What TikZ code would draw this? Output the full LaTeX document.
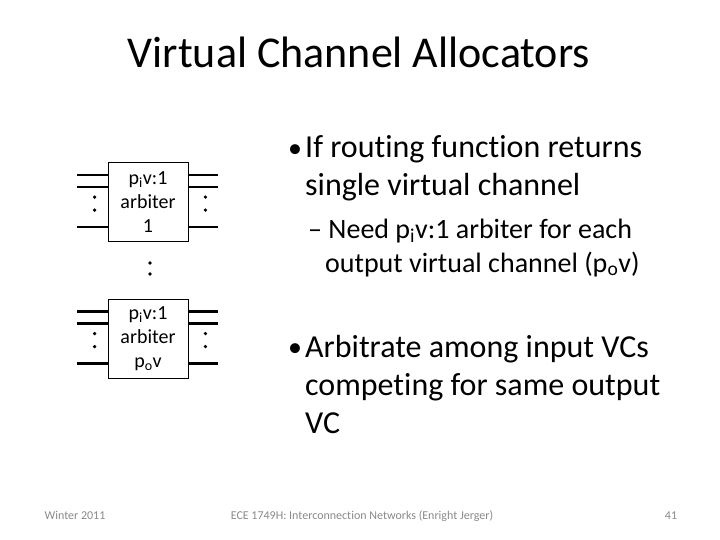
\documentclass[tikz,border=0pt]{standalone}
\usepackage{fontspec}
\setmainfont{Carlito}[Ligatures=NoCommon]
\usepackage{xcolor}
\usepackage{tikz}
\usetikzlibrary{positioning,calc}

\definecolor{footgray}{RGB}{137,137,137}

\begin{document}
\begin{tikzpicture}[
    x=1pt, y=-1pt,
    arbiter/.style={rectangle, draw, line width=0.8pt, minimum width=80pt, minimum height=79pt, inner sep=0pt, align=center, font=\fontsize{20}{24}\selectfont},
    wire/.style={line width=2.6pt},
    vdot/.style={circle, fill, inner sep=0pt, minimum size=3.6pt},
    title/.style={font=\fontsize{44}{53}\selectfont, anchor=base},
    bulletmark/.style={font=\fontsize{28}{34}\selectfont, anchor=base west, inner sep=0pt},
    item/.style={font=\fontsize{32}{38}\selectfont, anchor=base west, align=left, inner sep=0pt},
    subitem/.style={font=\fontsize{28}{34}\selectfont, anchor=base west, align=left, inner sep=0pt},
    footer/.style={font=\fontsize{12}{14}\selectfont, text=footgray, anchor=base, inner sep=0pt}
]
\useasboundingbox (0,0) rectangle (720,540);

% Title
\node[title] (title) at (359,68) {Virtual Channel Allocators};

% Arbiters
\node[arbiter] (arbA) at (148,202) {p\textsubscript{i}v:1\\arbiter\\1};
\node[arbiter] (arbB) at (148,338.5) {p\textsubscript{i}v:1\\arbiter\\p\textsubscript{o}v};

% Input and output wires with dots
\foreach \arb in {arbA,arbB} {
  \foreach \d in {13,25,65} {
    \draw[wire] ([yshift=-\d pt]\arb.north west) -- ++(-31,0);
    \draw[wire] ([yshift=-\d pt]\arb.north east) -- ++(30,0);
  }
  \foreach \d in {35,48} {
    \node[vdot] at ([xshift=-13pt,yshift=-\d pt]\arb.north west) {};
    \node[vdot] at ([xshift=17pt,yshift=-\d pt]\arb.north east) {};
  }
}

% Dots between the arbiters
\node[vdot] (gapA) at (150,263) {};
\node[vdot] (gapB) at (150,274) {};

% Bullets (multi-line nodes sit on the baseline of their last line)
\node[bulletmark] (markA) at (288,158) {•};
\node[item] (itemA) at (305,196) {If routing function returns\\single virtual channel};
\node[subitem] (subA) at (308,238) {– Need p\textsubscript{i}v:1 arbiter for each};
\node[subitem] (subB) at (325,272) {output virtual channel (p\textsubscript{o}v)};
\node[bulletmark] (markB) at (288,356) {•};
\node[item] (itemB) at (305,433) {Arbitrate among input VCs\\competing for same output\\VC};

% Footer
\node[footer] (date) at (75,519) {Winter 2011};
\node[footer] (course) at (362,519) {ECE 1749H: Interconnection Networks (Enright Jerger)};
\node[footer] (page) at (671,519) {41};

\end{tikzpicture}
\end{document}
